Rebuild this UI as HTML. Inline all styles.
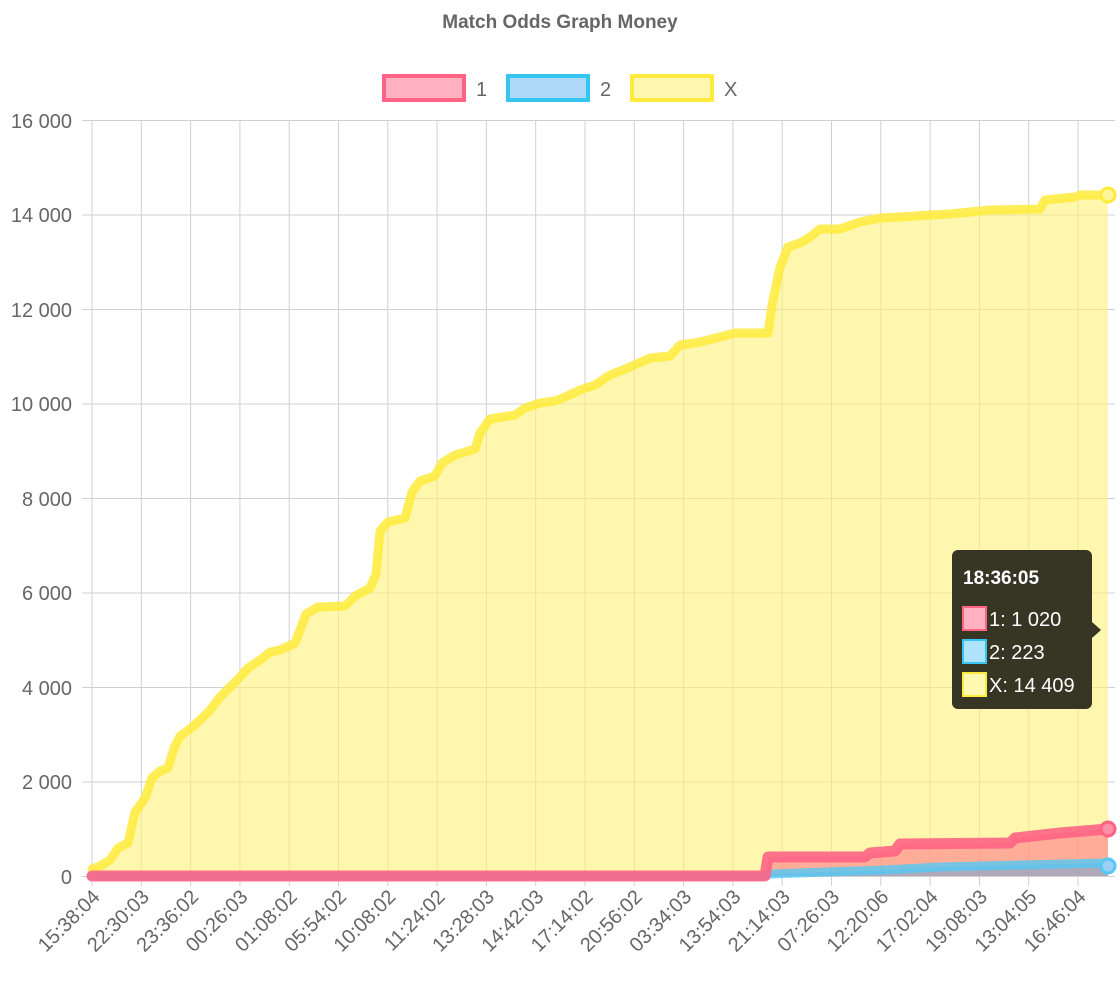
<!DOCTYPE html>
<html><head><meta charset="utf-8"><style>
body{margin:0;background:#fff;width:1120px;height:990px;overflow:hidden;font-family:"Liberation Sans",Arial,sans-serif}
</style></head><body>
<svg width="1120" height="990" xmlns="http://www.w3.org/2000/svg" font-family="Liberation Sans, Arial, sans-serif">
<text x="560" y="28" text-anchor="middle" font-size="19" font-weight="bold" fill="#666">Match Odds Graph Money</text>
<rect x="384" y="76" width="80" height="24" fill="#ffb1c1" stroke="#ff6384" stroke-width="4"/>
<text x="476" y="96" font-size="20" fill="#666">1</text>
<rect x="508" y="76" width="80" height="24" fill="#9ad0f5" fill-opacity=".8" stroke="#36c5f0" stroke-width="4"/>
<text x="600" y="96" font-size="20" fill="#666">2</text>
<rect x="632" y="76" width="80" height="24" fill="#fff7b0" stroke="#ffeb3b" stroke-width="4"/>
<text x="724" y="96" font-size="20" fill="#666">X</text>
<g stroke="#d0d0d0" stroke-width="1">
<line x1="82" y1="120.5" x2="1115" y2="120.5"/><line x1="82" y1="215" x2="1115" y2="215"/><line x1="82" y1="309.5" x2="1115" y2="309.5"/><line x1="82" y1="404" x2="1115" y2="404"/><line x1="82" y1="498.5" x2="1115" y2="498.5"/><line x1="82" y1="593" x2="1115" y2="593"/><line x1="82" y1="687.5" x2="1115" y2="687.5"/><line x1="82" y1="782" x2="1115" y2="782"/><line x1="82" y1="876.5" x2="1115" y2="876.5"/>
</g>
<g stroke="#d0d0d0" id="vg"></g>
<g font-size="20" fill="#666" text-anchor="end">
<text x="72" y="128">16 000</text><text x="72" y="222">14 000</text><text x="72" y="317">12 000</text><text x="72" y="411">10 000</text><text x="72" y="506">8 000</text><text x="72" y="600">6 000</text><text x="72" y="695">4 000</text><text x="72" y="789">2 000</text><text x="72" y="884">0</text>
</g>
<g id="xl" font-size="20" fill="#666" text-anchor="end"></g>
<polygon id="yf" fill="#fff176" fill-opacity="0.6"/>
<polygon id="rf" fill="#ff6384" fill-opacity="0.5"/>
<polygon id="bf" fill="#36a2eb" fill-opacity="0.4"/>
<polyline id="yl" fill="none" stroke="#ffeb3b" stroke-opacity=".85" stroke-width="9" stroke-linejoin="round" stroke-linecap="round"/>
<polyline id="bl" fill="none" stroke="#55c8f5" stroke-opacity=".8" stroke-width="9" stroke-linejoin="round" stroke-linecap="round"/>
<polyline id="rl" fill="none" stroke="#ff6384" stroke-opacity=".9" stroke-width="11" stroke-linejoin="round" stroke-linecap="round"/>
<circle cx="1108" cy="829" r="7" fill="#ff8fa6" stroke="#ff6384" stroke-width="3"/>
<circle cx="1108" cy="866" r="7" fill="#9ad0f5" stroke="#55c8f5" stroke-width="3"/>
<circle cx="1108" cy="195" r="7" fill="#fff59d" stroke="#ffeb3b" stroke-width="3"/>
<path d="M958 550 H1086 a6 6 0 0 1 6 6 V622 L1101 630 L1092 638 V703 a6 6 0 0 1 -6 6 H958 a6 6 0 0 1 -6 -6 V556 a6 6 0 0 1 6 -6Z" fill="#2c2a1c" fill-opacity=".95"/>
<text x="963" y="584" font-size="19" font-weight="bold" fill="#fff">18:36:05</text>
<rect x="963" y="607" width="23" height="23" fill="#ffb1c1" stroke="#ff6384" stroke-width="2"/>
<rect x="963" y="640" width="23" height="23" fill="#aee3fb" stroke="#36c5f0" stroke-width="2"/>
<rect x="963" y="673" width="23" height="23" fill="#fffab0" stroke="#ffeb3b" stroke-width="2"/>
<g font-size="20" fill="#fff"><text x="989" y="626">1: 1 020</text><text x="989" y="659">2: 223</text><text x="989" y="692">X: 14 409</text></g>
</svg>
<script>
var ns="http://www.w3.org/2000/svg";
var labels="15:38:04 22:30:03 23:36:02 00:26:03 01:08:02 05:54:02 10:08:02 11:24:02 13:28:03 14:42:03 17:14:02 20:56:02 03:34:03 13:54:03 21:14:03 07:26:03 12:20:06 17:02:04 19:08:03 13:04:05 16:46:04".split(" ");
var vg=document.getElementById("vg"),xl=document.getElementById("xl");
labels.forEach(function(l,i){var x=92+i*49.3;var ln=document.createElementNS(ns,"line");ln.setAttribute("x1",x);ln.setAttribute("x2",x);ln.setAttribute("y1",120);ln.setAttribute("y2",886);vg.appendChild(ln);
var t=document.createElementNS(ns,"text");t.setAttribute("transform","translate("+(x+9)+",898) rotate(-45)");t.textContent=l;xl.appendChild(t);});
var Y=[[92,869],[100,866],[110,860],[118,848],[128,843],[135,812],[145,798],[152,778],[160,771],[168,768],[174,748],[180,736],[190,729],[200,720],[210,710],[220,697],[232,685],[240,677],[248,668],[260,660],[270,652],[280,650],[295,643],[300,630],[306,614],[318,607],[345,606],[355,596],[370,588],[376,574],[380,531],[388,522],[405,518],[412,492],[420,481],[435,476],[442,463],[455,455],[475,449],[480,433],[490,419],[515,415],[525,408],[540,403],[555,401],[565,397],[580,390],[595,385],[610,375],[630,367],[650,358],[670,356],[680,345],[700,342],[720,337],[735,333],[768,333],[772,305],[780,267],[788,247],[800,243],[810,237],[820,229],[840,229],[860,222],[880,218],[900,217],[930,215],[950,214],[970,212],[990,210],[1040,209],[1045,200],[1075,197],[1080,195],[1108,195]];
var R=[[92,876],[765,876],[768,857],[865,857],[870,853],[895,851],[900,844],[1010,843],[1015,838],[1060,833],[1108,829]];
var B=[[92,876],[765,876],[770,874],[885,870],[940,867],[1020,865],[1108,863]];
function pts(a){return a.map(function(p){return p.join(",")}).join(" ");}
function fill(a){return pts(a)+" 1108,876 92,876";}
document.getElementById("yl").setAttribute("points",pts(Y));
document.getElementById("yf").setAttribute("points",fill(Y));
document.getElementById("rl").setAttribute("points",pts(R));
document.getElementById("rf").setAttribute("points",fill(R));
document.getElementById("bl").setAttribute("points",pts(B));
document.getElementById("bf").setAttribute("points",fill(B));
</script>
</body></html>
